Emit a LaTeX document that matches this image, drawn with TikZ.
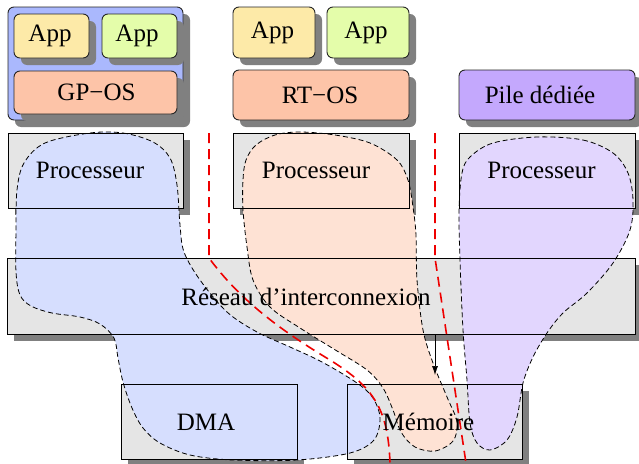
\documentclass[tikz,border=0pt]{standalone}
\usepackage{fontspec}
\setmainfont{Liberation Serif}
\usetikzlibrary{shadows,arrows.meta}

\definecolor{appyellow}{RGB}{253,234,168}
\definecolor{appgreen}{RGB}{228,253,170}
\definecolor{ossalmon}{RGB}{253,196,168}
\definecolor{gpblue}{RGB}{170,184,253}
\definecolor{pilepurple}{RGB}{196,168,253}
\definecolor{hwgray}{RGB}{229,229,229}
\definecolor{shadowgray}{RGB}{128,128,128}
\definecolor{blobblue}{RGB}{214,222,254}
\definecolor{blobpeach}{RGB}{254,226,212}
\definecolor{blobpurple}{RGB}{226,214,254}
\definecolor{sepred}{RGB}{238,0,0}

\tikzset{
  shadowed/.style={drop shadow={shadow xshift=7pt, shadow yshift=-7pt, fill=shadowgray, opacity=1}},
  swbox/.style={draw=black!85, line width=0.9pt, rounded corners=6pt, inner sep=0pt, outer sep=0pt, shadowed},
  hwbox/.style={fill=hwgray, inner sep=0pt, outer sep=0pt, shadowed},
  hwline/.style={draw=black, line width=0.9pt},
  blob/.style={draw=black, line width=0.8pt, dash pattern=on 5pt off 3pt},
  sepline/.style={draw=sepred, line width=1.6pt, dash pattern=on 10pt off 6pt},
  lbl/.style={font=\fontsize{25}{30}\selectfont, inner sep=0pt},
  busarrow/.style={draw=black, line width=0.7pt, -{Latex[length=9pt,width=6pt]}}
}

\begin{document}
\begin{tikzpicture}[x=1pt, y=-1pt]
\useasboundingbox (0,0) rectangle (639,463);

% ---- software stacks ----
\node[swbox, fill=gpblue, minimum width=175pt, minimum height=113pt] (gp) at (95.5,63.5) {};
\node[swbox, fill=appyellow, minimum width=75pt, minimum height=44pt] (app1) at (51.5,36) {};
\node[swbox, fill=appgreen, minimum width=75pt, minimum height=44pt] (app2) at (139.5,36) {};
\node[swbox, fill=ossalmon, minimum width=163pt, minimum height=43pt] (gpos) at (95.5,92.5) {};

\node[swbox, fill=appyellow, minimum width=82pt, minimum height=51pt] (app3) at (274,32.5) {};
\node[swbox, fill=appgreen, minimum width=82pt, minimum height=51pt] (app4) at (368,32.5) {};
\node[swbox, fill=ossalmon, minimum width=176pt, minimum height=50pt] (rtos) at (321,95) {};

\node[swbox, fill=pilepurple, minimum width=176pt, minimum height=50pt] (pile) at (547,95) {};

% ---- hardware blocks (fill and shadow) ----
\node[hwbox, minimum width=175pt, minimum height=75pt] (cpu1) at (95.5,170.5) {};
\node[hwbox, minimum width=176pt, minimum height=75pt] (cpu2) at (321,170.5) {};
\node[hwbox, minimum width=176pt, minimum height=75pt] (cpu3) at (547,170.5) {};
\node[hwbox, minimum width=628pt, minimum height=76pt] (noc) at (321,296) {};
\node[hwbox, minimum width=176pt, minimum height=75pt] (dma) at (209,421.5) {};
\node[hwbox, minimum width=175pt, minimum height=75pt] (mem) at (434.5,421.5) {};

% ---- partitions ----
\filldraw[blob, fill=blobblue] plot[smooth cycle, tension=0.55] coordinates {
  (90,133) (123,133) (153,142) (170,158) (177,185) (180,225) (184,252)
  (200,280) (227,312) (257,332) (290,347) (322,362) (357,383) (373,398)
  (380,418) (374,440) (350,453) (297,460) (233,460) (190,455) (160,443)
  (143,428) (132,408) (123,382) (118,358) (114,338) (100,324) (80,317)
  (52,313) (31,306) (20,295) (16,272) (16,230) (17,190) (24,163) (45,143)};

\filldraw[blob, fill=blobpeach] plot[smooth cycle, tension=0.55] coordinates {
  (300,132) (335,135) (370,143) (397,160) (408,180) (413,207) (416,235)
  (417,280) (423,330) (433,363) (447,397) (457,422) (453,441) (435,451)
  (415,447) (401,432) (393,410) (383,388) (367,370) (337,351) (300,328)
  (270,307) (253,280) (247,247) (243,210) (243,180) (246,160) (256,145)
  (275,135)};

\filldraw[blob, fill=blobpurple] plot[smooth cycle, tension=0.55] coordinates {
  (537,137) (583,140) (613,153) (628,173) (633,200) (630,230) (613,263)
  (587,293) (563,313) (547,333) (533,357) (523,383) (517,417) (507,440)
  (490,450) (477,443) (470,423) (467,380) (463,330) (460,260) (459,210)
  (462,173) (470,157) (493,143)};

% ---- hardware outlines on top of the partitions ----
\foreach \b in {cpu1,cpu2,cpu3,noc,dma,mem}
  \draw[hwline] (\b.south west) rectangle (\b.north east);

% ---- separators between partitions ----
\coordinate (sepAtop) at (209,133);
\coordinate (sepAbend) at (209,258);
\coordinate (sepAbot) at (390,463);
\coordinate (sepBtop) at (435,133);
\coordinate (sepBbend) at (435,258);
\coordinate (sepBbot) at (466,463);
\draw[sepline] (sepAtop) -- (sepAbend)
  .. controls (240,300) and (280,330) .. (330,360)
  .. controls (375,388) and (388,410) .. (sepAbot);
\draw[sepline] (sepBtop) -- (sepBbend) -- (sepBbot);

% ---- interconnect to memory ----
\coordinate (memin) at (435,375);
\draw[busarrow] (noc.south -| memin) -- (memin);

% ---- labels ----
\node[lbl] (tapp1) at (50,36) {App};
\node[lbl] (tapp2) at (137,36) {App};
\node[lbl] (tgpos) at (96.5,92.5) {GP−OS};
\node[lbl] (tapp3) at (272.5,32.5) {App};
\node[lbl] (tapp4) at (366,32.5) {App};
\node[lbl] (trtos) at (320,95) {RT−OS};
\node[lbl] (tpile) at (540,95) {Pile dédiée};
\node[lbl] (tcpu1) at (90,170.5) {Processeur};
\node[lbl] (tcpu2) at (316,170.5) {Processeur};
\node[lbl] (tcpu3) at (541.5,170.5) {Processeur};
\node[lbl] (tnoc) at (306,297) {Réseau d’interconnexion};
\node[lbl] (tdma) at (206,422) {DMA};
\node[lbl] (tmem) at (428.5,422) {Mémoire};
\end{tikzpicture}
\end{document}
